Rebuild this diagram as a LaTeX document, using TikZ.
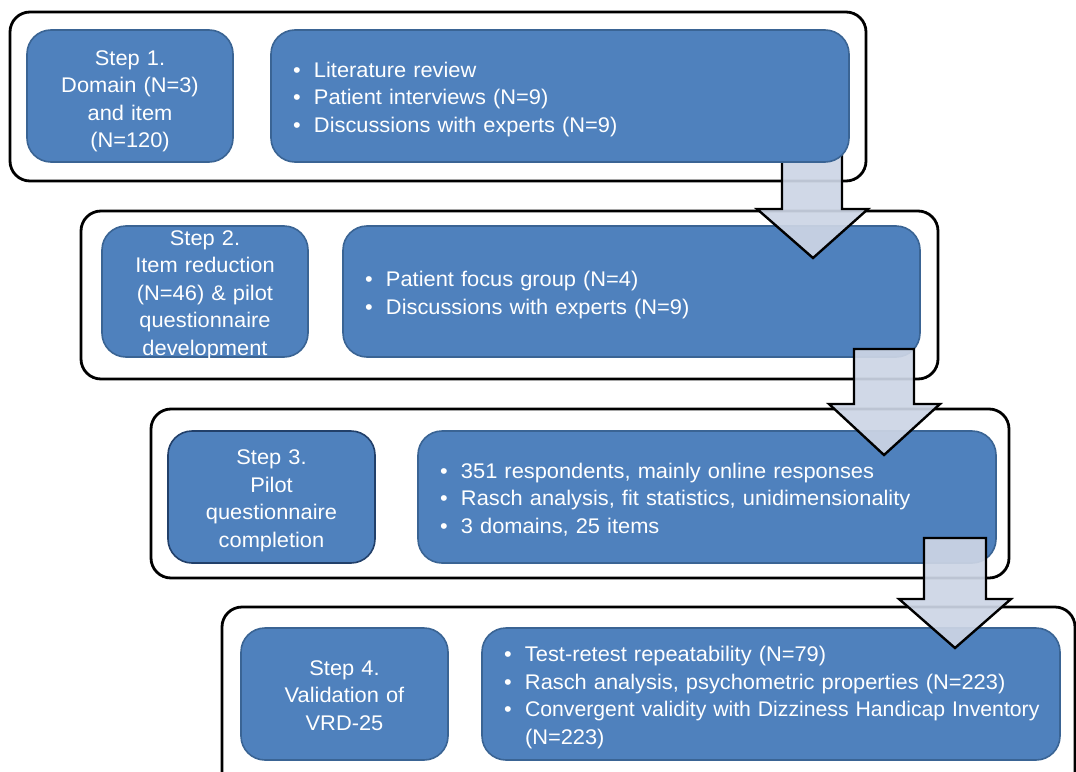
\documentclass[tikz,border=0pt]{standalone}
\usepackage{fontspec}
\usepackage{graphicx}
\setmainfont[FakeStretch=1.03]{Liberation Sans}
\definecolor{boxblue}{HTML}{4F81BD}
\definecolor{boxedge}{HTML}{3A6494}
\definecolor{darkedge}{HTML}{22406A}
\definecolor{arrowfill}{HTML}{CDD5E5}
\tikzset{
  outerbox/.style={draw=black, line width=2.8pt, rounded corners=20pt, fill=white},
  stepbox/.style={draw=boxedge, fill=boxblue, line width=1.6pt, rounded corners=24pt,
    text=white, align=center, inner sep=0pt, font=\fontsize{21.2}{27.5}\selectfont},
  bulletbox/.style={draw=boxedge, fill=boxblue, line width=1.6pt, rounded corners=24pt,
    text=white, align=left, inner xsep=8pt, inner ysep=0pt, font=\fontsize{21.2}{27.5}\selectfont},
  blockarrow/.style={draw=black, line width=2.4pt, fill=arrowfill, fill opacity=0.92, line join=miter},
}
\newcommand{\bl}{\hspace*{14pt}\makebox[21pt][l]{\textbullet}}
\newcommand{\ind}{\hspace*{35pt}}
\newcommand{\tops}{\rule{0pt}{23pt}}
\newcommand{\bots}{\rule[-5.5pt]{0pt}{5.5pt}}
\begin{document}
\hyphenpenalty=10000
\exhyphenpenalty=10000
\begin{tikzpicture}[x=1pt,y=-1pt]
\clip (0,0) rectangle (1076,771);
\fill[white] (0,0) rectangle (1076,771);
% Step 1 frame
\draw[outerbox] (10,12) rectangle (866,181);
% Step 2
\draw[outerbox] (81,211) rectangle (938,379);
\node[stepbox, minimum width=206pt, minimum height=131pt, text width=200pt] (s2) at (205,291.5)
  {\rule{0pt}{19.25pt}Step 2.\\Item reduction\\(N=46) \& pilot\\questionnaire\\\raisebox{0pt}[15pt][1.75pt]{development}};
\node[bulletbox, minimum width=577pt, minimum height=131pt, text width=561pt] (b2) at (631.5,291.5)
  {\tops\bl Patient focus group (N=4)\\\bl Discussions with experts (N=9)\bots};
% Step 3
\draw[outerbox] (151,409) rectangle (1009,578);
\node[stepbox, draw=darkedge, minimum width=207pt, minimum height=132pt, text width=200pt] (s3) at (271.5,497)
  {\tops Step 3.\\Pilot\\questionnaire\\completion\bots};
\node[bulletbox, minimum width=578pt, minimum height=132pt, text width=562pt] (b3) at (707,497)
  {\tops\bl 351 respondents, mainly online responses\\\bl Rasch analysis, fit statistics, unidimensionality\\\bl 3 domains, 25 items\bots};
% Step 4
\draw[outerbox] (222,607) rectangle (1075,800);
\node[stepbox, minimum width=207pt, minimum height=132pt, text width=200pt] (s4) at (344.5,694)
  {\tops Step 4.\\Validation of\\VRD-25\bots};
\node[bulletbox, minimum width=578pt, minimum height=132pt, text width=562pt] (b4) at (771,694)
  {\tops\bl Test-retest repeatability (N=79)\\\bl Rasch analysis, psychometric properties (N=223)\\\bl \scalebox{0.972}[1]{Convergent validity with Dizziness Handicap Inventory}\\\ind (N=223)\bots};
% Arrows
\draw[blockarrow] (782,148) -- (842,148) -- (842,209) -- (868,209) -- (813,258) -- (757,209) -- (782,209) -- cycle;
\draw[blockarrow] (854,349) -- (914,349) -- (914,404) -- (940,404) -- (884,455) -- (829,404) -- (854,404) -- cycle;
\draw[blockarrow] (924,538) -- (986,538) -- (986,599) -- (1011,599) -- (955,648) -- (899,599) -- (924,599) -- cycle;
% Step 1 boxes (over the first arrow)
\node[stepbox, minimum width=206pt, minimum height=132pt, text width=200pt] (s1) at (130,96)
  {\rule{0pt}{26pt}Step 1.\\Domain (N=3)\\and item\\(N=120)\bots};
\node[bulletbox, minimum width=578pt, minimum height=132pt, text width=562pt] (b1) at (560,96)
  {\tops\bl Literature review\\\bl Patient interviews (N=9)\\\bl Discussions with experts (N=9)\bots};
\end{tikzpicture}
\end{document}
